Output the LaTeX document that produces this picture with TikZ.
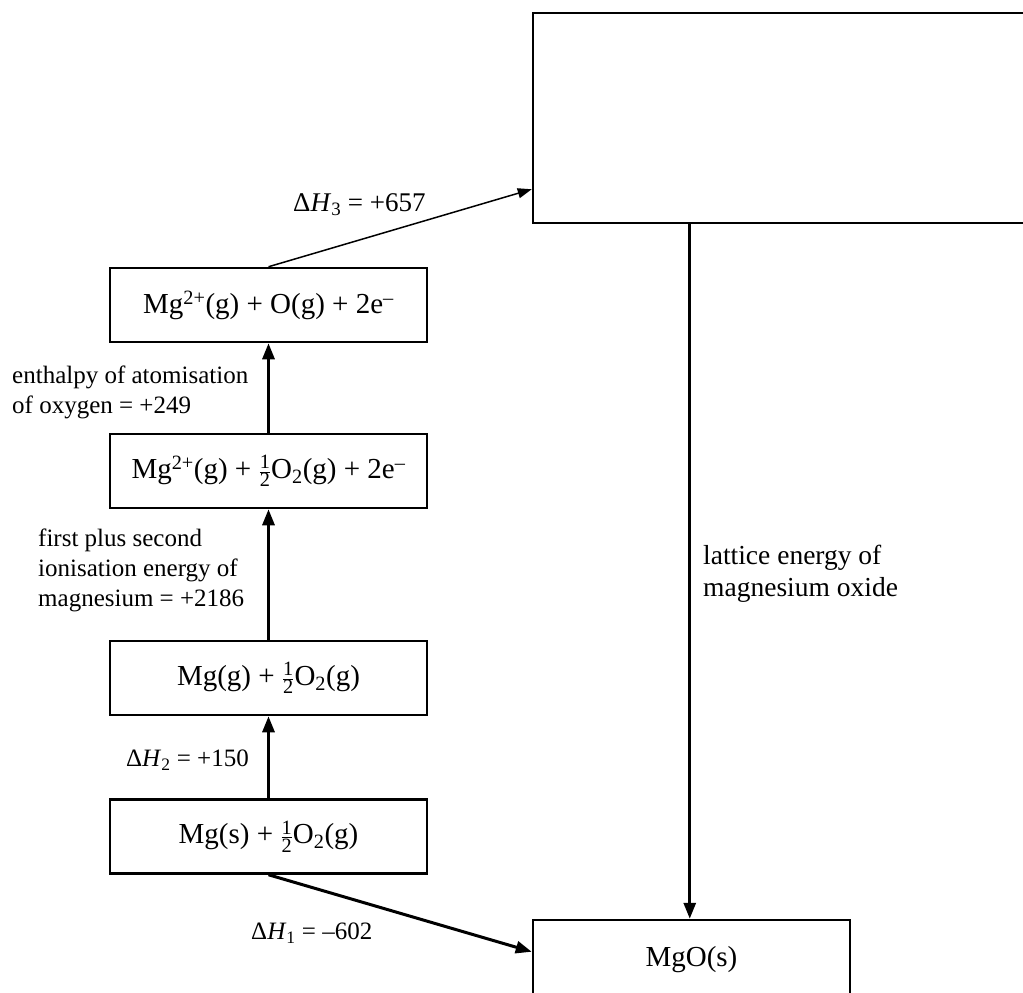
\documentclass[tikz,border=0pt]{standalone}
\usepackage{amsmath}
\usepackage{fontspec}
\setmainfont{Liberation Serif}
\usetikzlibrary{arrows.meta}
\newcommand{\hf}{$\genfrac{}{}{0.6pt}{}{\text{1}}{\text{2}}$}
\begin{document}
\begin{tikzpicture}[x=1pt,y=-1pt,
  box/.style={draw, line width=2.5pt, minimum width=317pt, minimum height=74pt, inner sep=0pt, font=\fontsize{29}{35}\selectfont},
  lbl/.style={inner sep=0pt, align=left, font=\fontsize{25}{30}\selectfont},
  dh/.style={inner sep=0pt, font=\fontsize{25}{30}\selectfont},
  arr/.style={line width=3pt, -{Triangle[length=16pt,width=12pt]}},
  thinarr/.style={line width=1.5pt, -{Triangle[length=14pt,width=10pt]}}]
\useasboundingbox (0,0) rectangle (1023,993);
\clip (0,0) rectangle (1023,993);
\node[box] (A) at (268.5,305) {Mg\textsuperscript{2+}(g) + O(g) + 2e\textsuperscript{–}};
\node[box] (B) at (268.5,471) {Mg\textsuperscript{2+}(g) + \hf O\textsubscript{2}(g) + 2e\textsuperscript{–}};
\node[box] (C) at (268.5,678) {Mg(g) + \hf O\textsubscript{2}(g)};
\node[box] (D) at (268.5,836.5) {Mg(s) + \hf O\textsubscript{2}(g)};
\node[box, minimum width=530pt, minimum height=210pt] (L) at (798,118) {};
\node[box, minimum height=80pt] (M) at (691.5,960) {MgO(s)};
\draw[arr] (D.north) -- (C.south);
\draw[arr] (C.north) -- (B.south);
\draw[arr] (B.north) -- (A.south);
\draw[thinarr] (A.north) -- ([yshift=35pt]L.south west);
\draw[arr] (D.south) -- ([yshift=-33pt]M.north west);
\draw[arr] ([xshift=158pt]L.south west) -- ([xshift=158pt]M.north west);
\node[dh, anchor=west, font=\fontsize{27}{32}\selectfont] (h3) at (293,205) {Δ\textit{H}\textsubscript{3} = +657};
\node[lbl, anchor=west] (at) at (12,392) {enthalpy of atomisation\\of oxygen = +249};
\node[lbl, anchor=west] (ie) at (38,570) {first plus second\\ionisation energy of\\magnesium = +2186};
\node[dh, anchor=east] (h2) at (249,760) {Δ\textit{H}\textsubscript{2} = +150};
\node[dh, anchor=west] (h1) at (251,933) {Δ\textit{H}\textsubscript{1} = –602};
\node[lbl, anchor=west, font=\fontsize{27.5}{32}\selectfont] (le) at (703,574) {lattice energy of\\magnesium oxide};
\end{tikzpicture}
\end{document}
